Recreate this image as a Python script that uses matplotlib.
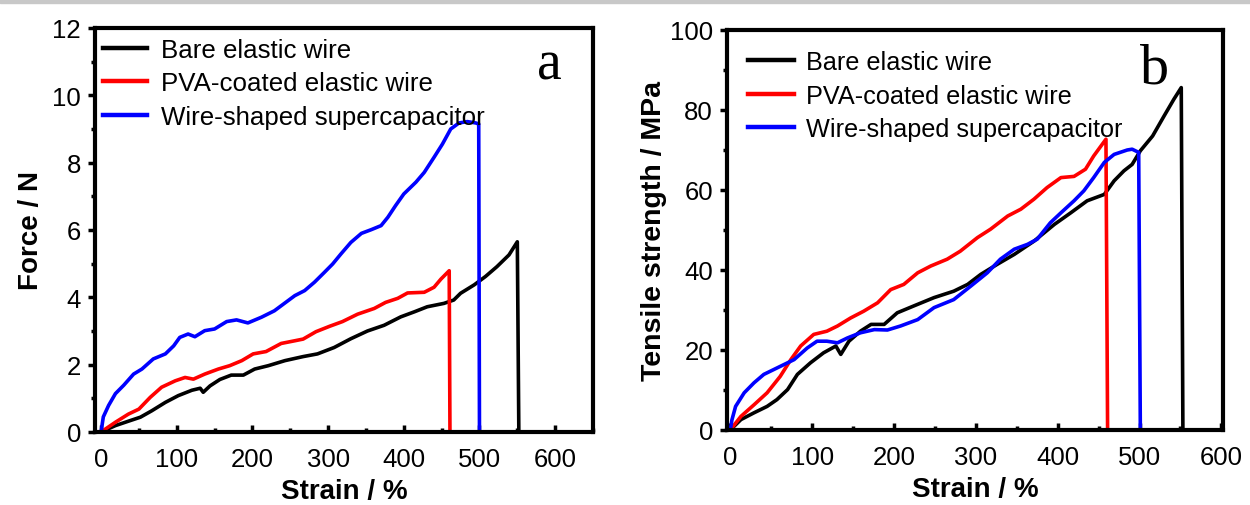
import matplotlib
matplotlib.use('Agg')
import matplotlib.pyplot as plt
from matplotlib.patches import Rectangle
from matplotlib.ticker import MultipleLocator

# panel a: force vs strain
a_bare_x = [0, 19, 36, 52, 67, 85, 102, 120, 131, 135, 144, 157, 172, 188, 203, 221, 243, 267, 286,
            308, 330, 352, 374, 396, 414, 431, 453, 466, 475, 493, 508, 523, 539, 550, 552]
a_bare_y = [0, 0.19, 0.32, 0.44, 0.63, 0.88, 1.08, 1.24, 1.30, 1.18, 1.37, 1.56, 1.69, 1.69, 1.87,
            1.97, 2.12, 2.24, 2.32, 2.51, 2.77, 3.00, 3.17, 3.42, 3.57, 3.72, 3.82, 3.92, 4.12, 4.37,
            4.62, 4.91, 5.26, 5.65, 0]
a_pva_x = [0, 19, 36, 50, 65, 80, 98, 111, 122, 137, 155, 170, 186, 201, 218, 238, 256, 267, 284,
           302, 319, 339, 361, 376, 392, 405, 427, 440, 449, 460, 461]
a_pva_y = [0, 0.29, 0.53, 0.68, 1.03, 1.33, 1.52, 1.62, 1.57, 1.72, 1.87, 1.97, 2.12, 2.32, 2.39,
           2.63, 2.71, 2.76, 2.98, 3.14, 3.28, 3.50, 3.67, 3.85, 3.97, 4.13, 4.15, 4.30, 4.54, 4.79, 0]
a_cap_x = [0, 3, 10, 19, 30, 43, 54, 69, 85, 96, 104, 115, 124, 137, 150, 166, 179, 194, 212, 229,
           256, 269, 282, 295, 306, 317, 330, 344, 357, 370, 379, 389, 400, 416, 427, 440, 451, 462,
           473, 484, 495, 499, 500]
a_cap_y = [0, 0.45, 0.79, 1.14, 1.39, 1.72, 1.87, 2.17, 2.32, 2.56, 2.81, 2.91, 2.83, 3.01, 3.06,
           3.28, 3.33, 3.24, 3.41, 3.60, 4.05, 4.20, 4.45, 4.74, 4.99, 5.29, 5.63, 5.90, 6.01, 6.13,
           6.38, 6.72, 7.07, 7.42, 7.71, 8.16, 8.55, 9.00, 9.18, 9.22, 9.18, 9.15, 0]

# panel b: tensile strength vs strain
b_bare_x = [0, 13, 29, 45, 57, 70, 82, 98, 114, 129, 135, 145, 159, 172, 188, 204, 224, 249, 273,
            290, 306, 326, 347, 371, 396, 416, 436, 457, 469, 481, 491, 501, 516, 530, 542, 551, 553]
b_bare_y = [0, 2.6, 4.3, 5.9, 7.6, 10.1, 13.9, 16.8, 19.3, 21.0, 18.9, 22.2, 24.7, 26.4, 26.4, 29.3,
            31.0, 33.1, 34.7, 36.4, 38.9, 41.4, 43.9, 47.2, 51.4, 54.3, 57.3, 58.9, 62.3, 64.8, 66.4,
            69.8, 73.5, 78.5, 82.7, 85.6, 0]
b_pva_x = [0, 13, 29, 45, 61, 74, 86, 102, 118, 131, 147, 163, 180, 196, 212, 229, 245, 265, 281,
           302, 318, 339, 355, 371, 387, 404, 420, 434, 444, 459, 461]
b_pva_y = [0, 3.4, 6.3, 9.3, 13.4, 17.6, 21.0, 23.9, 24.7, 26.0, 28.0, 29.7, 31.8, 35.1, 36.4, 39.3,
           41.0, 42.7, 44.7, 48.1, 50.2, 53.5, 55.2, 57.7, 60.6, 63.1, 63.4, 65.2, 68.5, 72.7, 0]
b_cap_x = [0, 2, 6.5, 17, 29, 41, 57, 78, 94, 106, 118, 131, 143, 159, 176, 192, 208, 229, 249, 273,
           294, 314, 330, 347, 363, 375, 391, 404, 420, 432, 444, 457, 469, 485, 491, 499, 501]
b_cap_y = [0, 2.5, 5.9, 9.3, 11.8, 13.9, 15.5, 17.6, 20.5, 22.2, 22.2, 21.8, 23.0, 24.3, 25.1, 25.0,
           26.0, 27.6, 30.6, 32.6, 36.0, 39.3, 42.7, 45.2, 46.4, 47.7, 51.8, 54.3, 57.3, 59.8, 63.1,
           66.9, 68.9, 70.0, 70.2, 69.4, 0]

labels = ['Bare elastic wire', 'PVA-coated elastic wire', 'Wire-shaped supercapacitor']
colors = ['black', '#ff0000', '#0000ff']

plt.rcParams['font.family'] = ['Liberation Sans', 'DejaVu Sans']

fig = plt.figure(figsize=(12.5, 5.06), dpi=100)
fig.patches.append(Rectangle((0, 1 - 4 / 506), 1, 4 / 506, transform=fig.transFigure,
                             color='#c8c8c8', zorder=0))

ax1 = fig.add_axes([95 / 1250, 73 / 506, 498 / 1250, 404 / 506])
ax2 = fig.add_axes([727 / 1250, 75 / 506, 496 / 1250, 400 / 506])

lw = 2.6
for xs, ys, c, lab in zip([a_bare_x, a_pva_x, a_cap_x], [a_bare_y, a_pva_y, a_cap_y], colors, labels):
    ax1.plot(xs, ys, color=c, lw=lw, label=lab, solid_joinstyle='round')
for xs, ys, c, lab in zip([b_bare_x, b_pva_x, b_cap_x], [b_bare_y, b_pva_y, b_cap_y], colors, labels):
    ax2.plot(xs, ys, color=c, lw=lw, label=lab, solid_joinstyle='round')

ax1.set_xlim(-8, 650)
ax1.set_ylim(0, 12)
ax1.yaxis.set_major_locator(MultipleLocator(2))
ax1.yaxis.set_minor_locator(MultipleLocator(1))
ax2.set_xlim(-4, 602)
ax2.set_ylim(0, 100)
ax2.yaxis.set_major_locator(MultipleLocator(20))
ax2.yaxis.set_minor_locator(MultipleLocator(10))

for ax in (ax1, ax2):
    ax.xaxis.set_major_locator(MultipleLocator(100))
    ax.xaxis.set_minor_locator(MultipleLocator(50))
    for s in ax.spines.values():
        s.set_linewidth(3.0)
    ax.tick_params(axis='x', which='major', direction='in', length=5, width=2.5, labelsize=18.5, pad=11)
    ax.tick_params(axis='x', which='minor', direction='in', length=3, width=2.5)
    ax.tick_params(axis='y', which='major', direction='out', length=5, width=2.5, labelsize=18.5, pad=5)
    ax.tick_params(axis='y', which='minor', direction='out', length=3, width=2.5)
    ax.set_xlabel('Strain / %', fontsize=20, fontweight='bold', labelpad=5)

ax1.set_ylabel('Force / N', fontsize=20, fontweight='bold', labelpad=6)
ax2.set_ylabel('Tensile strength / MPa', fontsize=20.5, fontweight='bold', labelpad=2)

ax1.legend(loc='upper left', bbox_to_anchor=(8 / 498, 1 - 10 / 404), frameon=False, fontsize=18.6,
           borderaxespad=0, borderpad=0, handlelength=1.7, handletextpad=0.55, labelspacing=0.36)
ax2.legend(loc='upper left', bbox_to_anchor=(21 / 496, 1 - 20 / 400), frameon=False, fontsize=18.2,
           borderaxespad=0, borderpad=0, handlelength=1.8, handletextpad=0.5, labelspacing=0.38)
for leg in (ax1.get_legend(), ax2.get_legend()):
    for h in leg.get_lines():
        h.set_linewidth(3.2)

ax1.text(0.912, 0.874, 'a', transform=ax1.transAxes, ha='center', va='baseline',
         fontsize=40, family='Liberation Serif')
ax2.text(0.863, 0.87, 'b', transform=ax2.transAxes, ha='center', va='baseline',
         fontsize=42, family='Liberation Serif')

fig.savefig('out.png', dpi=100)
